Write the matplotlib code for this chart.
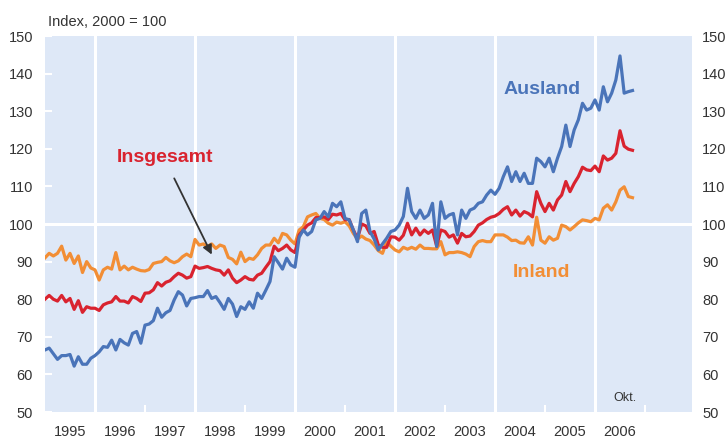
import matplotlib
matplotlib.use('Agg')
import matplotlib.pyplot as plt
import numpy as np

plt.rcParams['font.family'] = ['Liberation Sans', 'DejaVu Sans']

# monthly index values, Jan 1995 - Oct 2006 (2000 = 100)
ausland = [
    66.5, 67, 65.5, 64, 65, 65, 65.3, 62.2, 64.7, 62.7, 62.7, 64.3,
    65, 66, 67.4, 67.2, 69.1, 66.5, 69.3, 68.4, 67.8, 70.9, 71.4, 68.3,
    73.1, 73.4, 74.3, 77.6, 75.2, 76.4, 77, 79.8, 82, 81.1, 78.2, 80.2,
    80.4, 80.7, 80.7, 82.3, 80.2, 80.7, 79.1, 77.3, 80.2, 78.7, 75.4, 78,
    77.3, 79.3, 77.6, 81.6, 80.2, 82.4, 84.7, 91.3, 89.7, 88, 90.9, 89.1,
    88.5, 96.5, 98.4, 97.1, 98, 101.1, 101.5, 103.3, 101.9, 105.5, 104.6, 105.9,
    101.5, 101.1, 98.4, 95.3, 102.8, 103.7, 98, 96, 93.1, 94.7, 96.2, 98,
    98.4, 99.7, 102, 109.5, 103.3, 101.5, 103.7, 101.5, 102.4, 105.5, 94, 105.9,
    101.5, 102.4, 102.8, 97.1, 103.7, 101.5, 103.7, 104.2, 105.5, 105.9, 107.7, 109,
    107.9, 109.5, 112.6, 115.2, 111.3, 113.9, 111.3, 113.5, 110.8, 110.8, 117.5, 116.6,
    115.2, 117.5, 113.9, 117.5, 120.6, 126.3, 120.6, 125, 127.7, 132.1, 130.3, 130.8,
    133, 130.3, 136.5, 132.5, 134.8, 138.3, 144.7, 134.8, 135.2, 135.5,
]
insgesamt = [
    80, 81, 80, 79.5, 81, 79.3, 80.2, 77.3, 79.6, 76.5, 78, 77.6,
    77.6, 77, 78.5, 79, 79.3, 80.7, 79.5, 79.5, 79, 80.7, 80.2, 79.4,
    81.6, 81.7, 82.5, 84.4, 83.5, 84.5, 84.9, 86, 86.9, 86.4, 85.6, 86,
    88.8, 88.2, 88.4, 88.7, 88.2, 87.8, 87.6, 86.4, 87.8, 85.6, 84.4, 85.1,
    86, 85.3, 85.1, 86.4, 86.9, 88.5, 90, 94.1, 92.9, 93.5, 94.4, 93.1,
    92.4, 97.1, 98.4, 99.7, 100.3, 101.7, 101.7, 101.9, 101.2, 102.6, 102.4, 102.8,
    101.1, 101.2, 98.4, 96.2, 100, 99.5, 97.5, 98, 94.4, 93.8, 93.8, 96.6,
    96.5, 95.7, 97, 100.2, 97.1, 98.9, 97.1, 98.4, 97.5, 98.4, 94.1, 98.4,
    98, 96.5, 97.1, 94.9, 97.5, 96.6, 96.8, 98, 99.7, 100.3, 101.2, 101.8,
    102.1, 102.8, 103.9, 104.6, 102.4, 103.7, 102.1, 103.3, 102.8, 101.9, 108.6, 105.5,
    103.3, 105.5, 103.7, 106.4, 107.7, 111.3, 108.6, 110.8, 112.6, 115.1, 114.4, 114.2,
    115.4, 113.9, 118.1, 117, 117.5, 118.8, 124.8, 120.7, 119.9, 119.6,
]
inland = [
    91, 92.2, 91.5, 92.2, 94.1, 90.4, 92.2, 89.5, 91.5, 87.1, 90, 88.3,
    87.8, 85.1, 87.8, 88.5, 88, 92.4, 87.8, 88.8, 87.8, 88.5, 88, 87.6,
    87.5, 87.9, 89.5, 89.8, 90, 91.1, 90.2, 89.7, 90.2, 91.3, 92, 91.3,
    95.9, 94.4, 94.7, 94, 94.7, 93.5, 94.4, 94, 91.1, 90.6, 89.4, 92.5,
    90, 90.9, 90.6, 91.8, 93.5, 94.4, 94.4, 96.2, 95, 97.5, 97.1, 95.7,
    94.7, 98.4, 99.3, 101.9, 102.4, 102.8, 101.5, 101.2, 100.2, 99.7, 100.5, 100.2,
    100.6, 99.5, 97.5, 96, 96.8, 96, 95.6, 94.4, 92.9, 92.2, 95.3, 94.1,
    93.1, 92.6, 93.8, 93.3, 93.8, 93.3, 94.4, 93.5, 93.5, 93.4, 93.4, 95.3,
    91.8, 92.4, 92.4, 92.6, 92.4, 92, 91.3, 94, 95.3, 95.6, 95.3, 95.3,
    97.1, 97.1, 97.1, 96.5, 95.6, 95.7, 95, 94.9, 96.6, 94.4, 101.8, 95.7,
    94.9, 96.6, 95.7, 96.2, 99.7, 99.3, 98.4, 99.3, 100.3, 101.1, 100.9, 100.6,
    101.5, 101.1, 104.2, 105.1, 103.7, 105.9, 109, 109.9, 107.3, 107,
]
years = list(range(1995, 2007))

x = 1995 + np.arange(len(ausland)) / 12

fig = plt.figure(figsize=(7.25, 4.38), dpi=100)
ax = fig.add_axes([45 / 725, 26 / 438, 647 / 725, 376 / 438])
ax.set_facecolor('#dee8f7')
for s in ax.spines.values():
    s.set_visible(False)

for g in range(1996, 2007, 2):
    ax.axvline(g, color='white', lw=2.2, zorder=1)
ax.axhline(100, color='white', lw=2.2, zorder=1)

ax.plot(x, inland, color='#f28e35', lw=2.3, zorder=3)
ax.plot(x, insgesamt, color='#d9232f', lw=2.3, zorder=4)
ax.plot(x, ausland, color='#4a74b9', lw=2.3, zorder=5)

ax.set_xlim(1995, 1995 + 647 / 50)
ax.set_ylim(50, 150)

ax.set_xticks(range(1997, 2008, 2))
ax.set_xticklabels([])
ax.set_xticks([y + 0.5 for y in years], minor=True)
ax.set_xticklabels([str(y) for y in years], minor=True)
ax.tick_params(axis='x', which='major', direction='in', length=5, width=1.5,
               color='white', top=False)
ax.tick_params(axis='x', which='minor', length=0, pad=9, labelsize=10.5,
               labelcolor='#333333')

ax.set_yticks(range(50, 151, 10))
ax.tick_params(axis='y', direction='in', length=5, width=1.5, color='white',
               left=True, right=True, labelleft=True, labelright=False,
               pad=8.6, labelsize=10.5, labelcolor='#333333')

ax2 = ax.twinx()
ax2.set_ylim(50, 150)
ax2.set_yticks(range(50, 151, 10))
for s in ax2.spines.values():
    s.set_visible(False)
ax2.tick_params(axis='y', length=0, pad=7.2, labelsize=10.5, labelcolor='#333333')

fig.text(48 / 725, 1 - 26 / 438, 'Index, 2000 = 100', fontsize=10.5,
         color='#333333', va='baseline')

ax.text(2004.94, 134.6, 'Ausland', color='#4a74b9', fontsize=14,
        fontweight='bold', ha='center', va='baseline', zorder=6)
ax.text(2004.93, 86.0, 'Inland', color='#f28e35', fontsize=14,
        fontweight='bold', ha='center', va='baseline', zorder=6)
ax.text(1997.4, 116.5, 'Insgesamt', color='#d9232f', fontsize=14,
        fontweight='bold', ha='center', va='baseline', zorder=6)
ax.annotate('', xy=(1998.36, 91.2), xytext=(1997.56, 112.8),
            arrowprops=dict(arrowstyle='-|>', color='#333333', lw=1.3,
                            mutation_scale=14), zorder=7)
ax.text(2006.59, 52.9, 'Okt.', color='#333333', fontsize=9,
        ha='center', va='baseline')

fig.savefig('out.png', dpi=100)
